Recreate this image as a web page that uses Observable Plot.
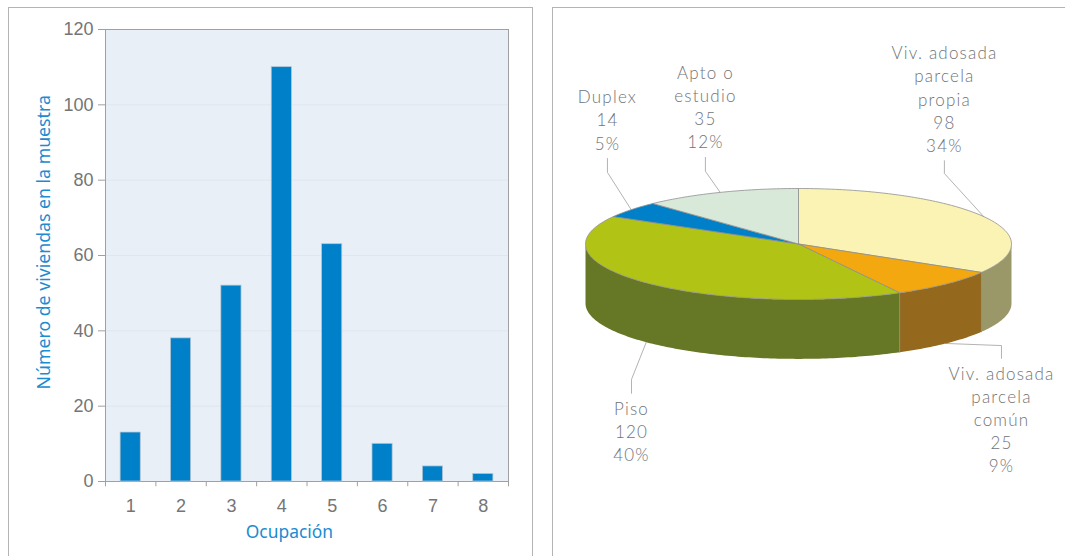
<!DOCTYPE html>
<html lang="es">
<head>
<meta charset="utf-8">
<title>Ocupación y tipo de vivienda</title>
<script src="https://cdn.jsdelivr.net/npm/d3@7"></script>
<script src="https://cdn.jsdelivr.net/npm/@observablehq/plot@0.6"></script>
<style>
  html, body { margin: 0; padding: 0; background: #fff; width: 1065px; height: 556px; overflow: hidden; }
  .panel { position: absolute; box-sizing: border-box; border: 1px solid #b4b4b4; border-bottom: none; }
</style>
</head>
<body>
<div class="panel" style="left:8px;top:7px;width:525px;height:549px"></div>
<div class="panel" style="left:552px;top:7px;width:520px;height:549px"></div>
<script>
// Bar chart data
const occupancy = [1, 2, 3, 4, 5, 6, 7, 8];
const dwellings = [13, 38, 52, 110, 63, 10, 4, 2];
const yTicks = [0, 20, 40, 60, 80, 100, 120];

// Pie chart data
const pieNames = ["Viv. adosada\nparcela\npropia", "Viv. adosada\nparcela\ncomún", "Piso", "Duplex", "Apto o\nestudio"];
const pieValues = [98, 25, 120, 14, 35];
const piePercents = [34, 9, 40, 5, 12];
const topColors = ["#FBF3B3", "#F3A80F", "#B1C416", "#0080C8", "#D8E9DA"];
const wallColors = ["#9A9768", "#94681D", "#667825", "#00507D", "#889388"];

// Leader layout in pie units: [label x, elbow y, end y]
const leaderLayout = [[0.685, 1.27, 1.50], [0.953, -1.83, -2.06], [-0.784, -2.44, -2.69], [-0.897, 1.29, 1.54], [-0.437, 1.31, 1.56]];
const depth = 1.07;

const grey = "#757575", blue = "#1a8ccf", axisGrey = "#a0a0a0";

const left = Plot.plot({
  width: 525, height: 549,
  marginLeft: 97, marginRight: 25, marginTop: 22, marginBottom: 75,
  style: {position: "absolute", left: "8px", top: "7px", background: "transparent", fontFamily: "Liberation Sans"},
  x: {domain: [0.5, 8.5]},
  y: {domain: [0, 120]},
  marks: [
    Plot.frame({fill: "#E9EFF7", stroke: null}),
    Plot.ruleY(yTicks.slice(1, -1), {stroke: "#DFE6F0", strokeWidth: 1}),
    Plot.frame({stroke: axisGrey}),
    Plot.rectY(occupancy.map((o, i) => ({o, v: dwellings[i]})), {
      x1: d => d.o - 0.2, x2: d => d.o + 0.2, y: "v",
      fill: "#0080C8", stroke: "#b4c4d2", strokeWidth: 0.75
    }),
    Plot.axisY({ticks: yTicks, tickSize: 7, tickPadding: 5, fontSize: 18, label: null, stroke: axisGrey, fill: grey}),
    Plot.ruleX(d3.range(0.5, 9), {y1: 0, y2: -1.4, stroke: axisGrey}),
    Plot.axisX({ticks: occupancy, tickSize: 0, tickPadding: 18, fontSize: 18, label: null, fill: grey}),
    Plot.text(["Número de viviendas en la muestra"], {
      frameAnchor: "left", dx: -61, y: 63.5, rotate: -90, textAnchor: "middle",
      fontFamily: "Noto Sans", fontSize: 17.7, fill: blue
    }),
    Plot.text(["Ocupación"], {
      frameAnchor: "bottom", dy: 56, x: 4.15,
      fontFamily: "Noto Sans", fontSize: 17.4, fill: blue
    })
  ]
});
document.body.appendChild(left);

// Pie geometry derived from the values
const arcs = d3.pie().sort(null).startAngle(0).endAngle(2 * Math.PI)(pieValues);
const onRim = (a, drop = 0) => ({x: Math.sin(a), y: Math.cos(a) - drop});
const sweep = (a0, a1) => {
  const n = Math.max(2, Math.ceil((a1 - a0) / (Math.PI / 180)));
  return d3.range(n + 1).map(i => a0 + (a1 - a0) * i / n);
};
const topPts = arcs.flatMap((s, i) => {
  const pts = [{x: 0, y: 0}, ...sweep(s.startAngle, s.endAngle).map(a => onRim(a)), {x: 0, y: 0}];
  return pts.map(p => ({...p, slice: i, color: topColors[i]}));
});
const wallPts = arcs.flatMap((s, i) => {
  const a0 = Math.max(s.startAngle, Math.PI / 2), a1 = Math.min(s.endAngle, 3 * Math.PI / 2);
  if (a1 <= a0) return [];
  const as = sweep(a0, a1);
  const pts = [...as.map(a => onRim(a)), ...as.slice().reverse().map(a => onRim(a, depth))];
  return pts.map(p => ({...p, slice: i, color: wallColors[i]}));
});
const seamPts = arcs.filter(s => s.endAngle > Math.PI / 2 && s.endAngle < 3 * Math.PI / 2)
  .flatMap((s, i) => [onRim(s.endAngle), onRim(s.endAngle, depth)].map(p => ({...p, seam: i})));

const midAngle = s => (s.startAngle + s.endAngle) / 2;
const leaderPts = arcs.flatMap((s, i) => {
  const a = midAngle(s);
  const front = Math.cos(a) < 0;
  const [lx, ey, ty] = leaderLayout[i];
  return [onRim(a, front ? depth : 0), {x: lx, y: ey}, {x: lx, y: ty}].map(p => ({...p, slice: i}));
});
const labels = pieNames.map((name, i) => ({
  text: `${name}\n${pieValues[i]}\n${piePercents[i]}%`,
  x: leaderLayout[i][0], y: leaderLayout[i][2]
}));
const labelStyle = {x: "x", y: "y", text: "text", lineHeight: 1.36, fill: "#6f7477", fontFamily: "Lato", fontSize: 17, fontWeight: 300};

const right = Plot.plot({
  width: 513, height: 549,
  margin: 0,
  style: {position: "absolute", left: "552px", top: "7px", background: "transparent", letterSpacing: "1.2px"},
  x: {domain: [-1, 1], range: [33, 459], axis: null},
  y: {domain: [-1, 1], range: [292, 181], axis: null},
  marks: [
    Plot.line(leaderPts, {x: "x", y: "y", z: "slice", stroke: "#a0a0a0", strokeWidth: 0.8}),
    Plot.line(wallPts, {x: "x", y: "y", z: "slice", fill: "color", stroke: null}),
    Plot.line(seamPts, {x: "x", y: "y", z: "seam", stroke: "#8a8a8a", strokeWidth: 0.8}),
    Plot.line(topPts, {x: "x", y: "y", z: "slice", fill: "color", stroke: "#8f8f8f", strokeWidth: 0.8}),
    Plot.text(labels.filter(d => d.y > 0), {...labelStyle, lineAnchor: "bottom", dy: -9}),
    Plot.text(labels.filter(d => d.y < 0), {...labelStyle, lineAnchor: "top", dy: 5})
  ]
});
document.body.appendChild(right);
</script>
</body>
</html>
